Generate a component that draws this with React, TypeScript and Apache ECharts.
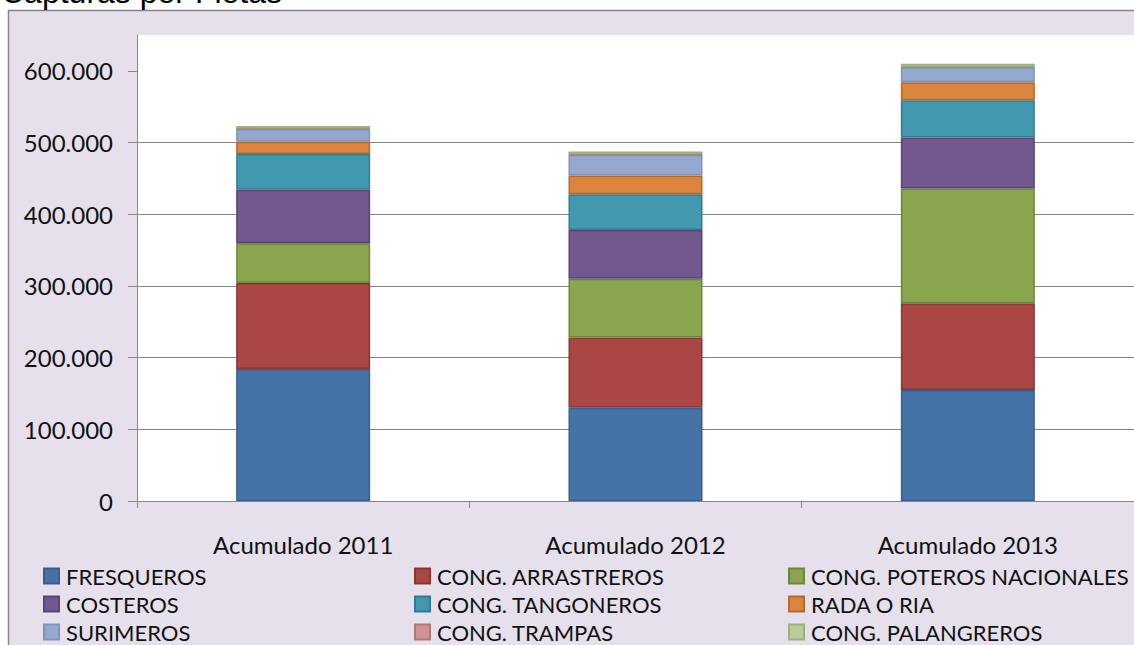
import React, { useEffect, useRef } from "react";
import * as echarts from "echarts";

const categories = ["Acumulado 2011", "Acumulado 2012", "Acumulado 2013"];
const seriesNames = [
  "FRESQUEROS",
  "CONG. ARRASTREROS",
  "CONG. POTEROS NACIONALES",
  "COSTEROS",
  "CONG. TANGONEROS",
  "RADA O RIA",
  "SURIMEROS",
  "CONG. TRAMPAS",
  "CONG. PALANGREROS",
];
const fresqueros = [184000, 130000, 155000];
const arrastreros = [120000, 98000, 121000];
const poteros = [56000, 82000, 160000];
const costeros = [74000, 68000, 71000];
const tangoneros = [50000, 50000, 52000];
const rada = [17000, 26000, 25000];
const surimeros = [18000, 29000, 21000];
const trampas = [500, 500, 500];
const palangreros = [3500, 4000, 4500];
const yTicks = [0, 100000, 200000, 300000, 400000, 500000, 600000];

const seriesData = [fresqueros, arrastreros, poteros, costeros, tangoneros, rada, surimeros, trampas, palangreros];
const fills = ["#4572A7", "#AA4643", "#89A54E", "#71588F", "#4198AF", "#DB843D", "#93A9CF", "#D19392", "#B9CD96"];
const borders = ["#3A5F8C", "#8A3633", "#6E863C", "#5A4573", "#317C8F", "#B56A2D", "#7E93B8", "#B07776", "#9DB07E"];

const legendCols = [
  ["FRESQUEROS", "COSTEROS", "SURIMEROS"],
  ["CONG. ARRASTREROS", "CONG. TANGONEROS", "CONG. TRAMPAS"],
  ["CONG. POTEROS NACIONALES", "RADA O RIA", "CONG. PALANGREROS"],
];
const legendX = [43, 414, 788];

const fmt = (v: number) => String(v).replace(/\B(?=(\d{3})+(?!\d))/g, ".");

export default function App() {
  const ref = useRef<HTMLDivElement>(null);
  useEffect(() => {
    const chart = echarts.init(ref.current!, null, { renderer: "svg" });
    const font = "Lato, 'Noto Sans', sans-serif";
    chart.setOption({
      animation: false,
      backgroundColor: "#ffffff",
      graphic: [
        {
          type: "rect",
          z: -10,
          silent: true,
          shape: { x: 8.5, y: 10.5, width: 1200, height: 700 },
          style: { fill: "#E5E0EC", stroke: "#868686", lineWidth: 1.5 },
        },
        {
          type: "text",
          left: 1,
          top: -24,
          style: {
            text: "Capturas por Flotas",
            font: "32px 'Liberation Sans', Arial, sans-serif",
            fill: "#000",
          },
        },
      ],
      grid: {
        left: 137,
        top: 35,
        right: -2,
        bottom: 144,
        show: true,
        backgroundColor: "#ffffff",
        borderWidth: 0,
        containLabel: false,
      },
      legend: legendCols.map((col, i) => ({
        data: col,
        orient: "vertical",
        left: legendX[i],
        top: 565,
        height: 120,
        itemWidth: 15,
        itemHeight: 15,
        itemGap: 6,
        icon: "rect",
        textStyle: { fontFamily: font, fontSize: 22, lineHeight: 20, color: "#111", padding: [0, 0, 0, 2] },
        padding: 0,
      })),
      xAxis: {
        type: "category",
        data: categories,
        axisLine: { lineStyle: { color: "#868686", width: 1 } },
        axisTick: { show: true, length: 7, lineStyle: { color: "#868686" } },
        axisLabel: { margin: 31, fontFamily: font, fontSize: 24, color: "#111" },
      },
      yAxis: {
        type: "value",
        min: 0,
        max: 650000,
        axisLine: { show: true, lineStyle: { color: "#868686", width: 1 } },
        axisTick: { show: true, length: 9, inside: false, customValues: yTicks, lineStyle: { color: "#868686" } },
        axisLabel: {
          customValues: yTicks,
          margin: 24,
          fontFamily: font,
          fontSize: 24,
          color: "#111",
          formatter: (v: number) => fmt(v),
        },
        splitLine: { show: true, showMaxLine: false, lineStyle: { color: "#868686", width: 1 } },
      },
      series: seriesNames.map((name, i) => ({
        name,
        type: "bar",
        stack: "total",
        barWidth: 134,
        data: seriesData[i],
        itemStyle: { color: fills[i], borderColor: borders[i], borderWidth: 1.5 },
      })),
    });
    return () => chart.dispose();
  }, []);
  return (
    <div
      ref={ref}
      style={{ position: "absolute", left: 0, top: 0, width: 1134, height: 645 }}
    />
  );
}
